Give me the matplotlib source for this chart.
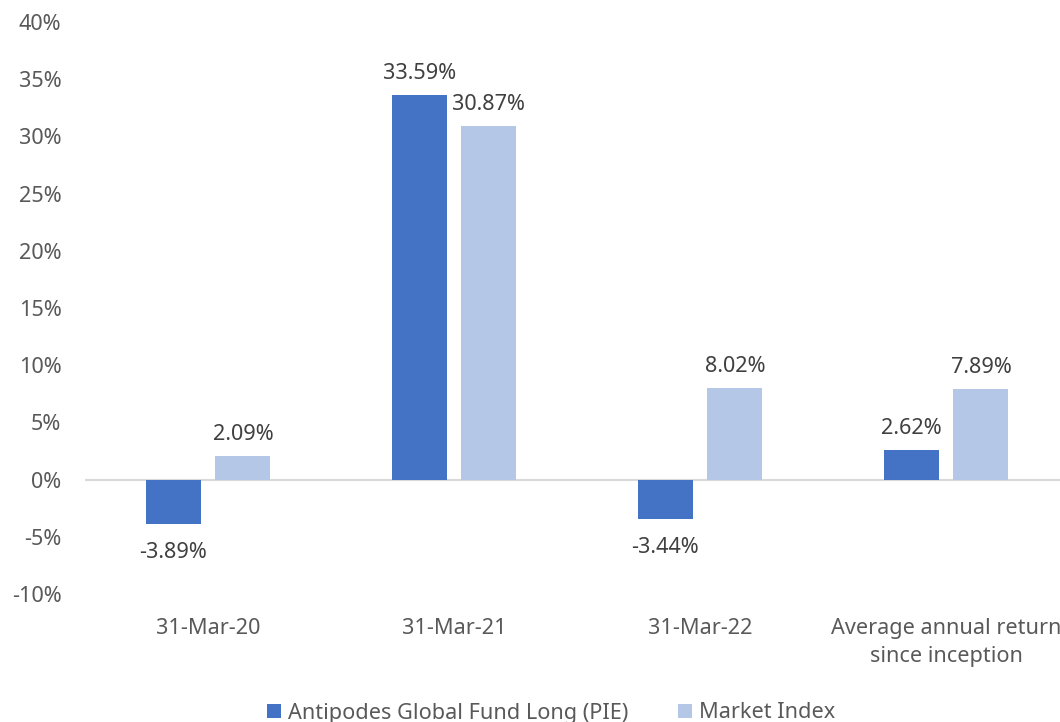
import matplotlib
matplotlib.use("Agg")
import matplotlib.pyplot as plt
import numpy as np

categories = ["31-Mar-20", "31-Mar-21", "31-Mar-22", "Average annual return\nsince inception"]
fund = [-3.89, 33.59, -3.44, 2.62]
market = [2.09, 30.87, 8.02, 7.89]
series_names = ["Antipodes Global Fund Long (PIE)", "Market Index"]
yticks = [-10, -5, 0, 5, 10, 15, 20, 25, 30, 35, 40]

plt.rcParams['font.family'] = ['Noto Sans', 'DejaVu Sans']
FS = 15.6

fig = plt.figure(figsize=(10.6, 7.22), dpi=100)
ax = fig.add_axes([85/1060, 1-594/722, 984/1060, (594-22)/722])

x = np.arange(len(categories))
w = 0.2236
off = 0.142
c1, c2 = "#4472C4", "#B4C7E7"
b1 = ax.bar(x - off, fund, w, color=c1, label=series_names[0], zorder=2)
b2 = ax.bar(x + off, market, w, color=c2, label=series_names[1], zorder=2)

for bars, vals in ((b1, fund), (b2, market)):
    for r, v in zip(bars, vals):
        cx = r.get_x() + r.get_width()/2
        if v >= 0:
            ax.annotate(f"{v:.2f}%", (cx, v), xytext=(0, 8), textcoords="offset points",
                        ha="center", va="bottom", fontsize=FS, color="#404040")
        else:
            ax.annotate(f"{v:.2f}%", (cx, v), xytext=(0, -13), textcoords="offset points",
                        ha="center", va="top", fontsize=FS, color="#404040")

ax.axhline(0, color="#D9D9D9", lw=1.5, zorder=1)
ax.set_xlim(-0.5, len(categories) - 0.5)
ax.set_ylim(-10, 40)
ax.set_yticks(yticks)
ax.set_yticklabels([f"{t}%" for t in yticks])
ax.set_xticks(x)
ax.set_xticklabels(categories, linespacing=1.45)
ax.tick_params(axis='y', length=0, pad=17, labelsize=FS, labelcolor="#595959")
ax.tick_params(axis='x', length=0, pad=17, labelsize=FS, labelcolor="#595959")
for s in ax.spines.values():
    s.set_visible(False)

leg = fig.legend(loc="center", bbox_to_anchor=(551/1060, 1-713/722), ncol=2, frameon=False,
                 fontsize=FS, handlelength=0.65, handleheight=0.65, handletextpad=0.3,
                 columnspacing=2.3, labelcolor="#595959")

fig.savefig("out.png", dpi=100)
